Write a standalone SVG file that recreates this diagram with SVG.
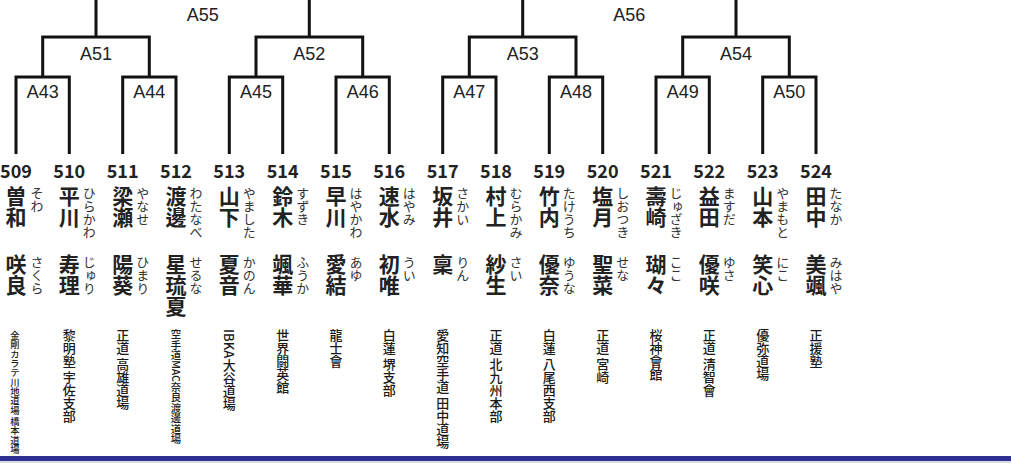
<svg xmlns="http://www.w3.org/2000/svg" width="1011" height="463" viewBox="0 0 1011 463">
<style>
.ln{fill:none;stroke:#111;stroke-width:3}
.lb{font-family:"Liberation Sans",Arial,sans-serif;font-size:18px;fill:#222;text-anchor:middle}
.no{font-family:"Noto Sans CJK JP","Noto Sans",sans-serif;font-weight:bold;font-size:18px;fill:#222;text-anchor:middle}
.nm{writing-mode:vertical-rl;font-family:"Noto Sans CJK JP",sans-serif;font-weight:bold;font-size:21px;fill:#222}
.fu{writing-mode:vertical-rl;font-family:"Noto Sans CJK JP",sans-serif;font-size:13px;fill:#333}
.dj{writing-mode:vertical-rl;font-family:"Noto Sans CJK JP",sans-serif;font-size:13px;font-weight:500;fill:#1a1a1a}
</style>
<rect width="1011" height="463" fill="#fff"/>
<g id="connectors">
<path class="ln" d="M16 154V77H69.3V154M122.7 154V77H176V154M229.3 154V77H282.7V154M336 154V77H389.3V154M442.7 154V77H496V154M549.3 154V77H602.7V154M656 154V77H709.3V154M762.7 154V77H816V154"/>
<path class="ln" d="M42.7 77V37H149.3V77M256 77V37H362.7V77M469.3 77V37H576V77M682.7 77V37H789.3V77"/>
<path class="ln" d="M96 37V-5H309.3V37M522.7 37V-5H736V37"/>
</g>
<g id="matches">
<text class="lb" x="202.7" y="21">A55</text>
<text class="lb" x="629.3" y="21">A56</text>
<text class="lb" x="96" y="60">A51</text>
<text class="lb" x="309.3" y="60">A52</text>
<text class="lb" x="522.7" y="60">A53</text>
<text class="lb" x="736" y="60">A54</text>
<text class="lb" x="42.7" y="98">A43</text>
<text class="lb" x="149.3" y="98">A44</text>
<text class="lb" x="256" y="98">A45</text>
<text class="lb" x="362.7" y="98">A46</text>
<text class="lb" x="469.3" y="98">A47</text>
<text class="lb" x="576" y="98">A48</text>
<text class="lb" x="682.7" y="98">A49</text>
<text class="lb" x="789.3" y="98">A50</text>
</g>
<g id="p509"><text class="no" x="16" y="178">509</text><text class="nm" x="16" y="186">曽和</text><text class="fu" x="37" y="187">そわ</text><text class="nm" x="16" y="254">咲良</text><text class="fu" x="37" y="256">さくら</text><text class="dj" x="15" y="331" style="font-size:9.3px">金剛カラテ川地道場 橋本道場</text></g>
<g id="p510"><text class="no" x="69.3" y="178">510</text><text class="nm" x="69.3" y="186">平川</text><text class="fu" x="89.3" y="187">ひらかわ</text><text class="nm" x="69.3" y="254">寿理</text><text class="fu" x="89.3" y="256">じゅり</text><text class="dj" x="69.3" y="329">黎明塾 宇佐支部</text></g>
<g id="p511"><text class="no" x="122.7" y="178">511</text><text class="nm" x="122.7" y="186">梁瀬</text><text class="fu" x="142.7" y="187">やなせ</text><text class="nm" x="122.7" y="254">陽葵</text><text class="fu" x="142.7" y="256">ひまり</text><text class="dj" x="122.7" y="329">正道 高雄道場</text></g>
<g id="p512"><text class="no" x="176" y="178">512</text><text class="nm" x="176" y="186">渡邊</text><text class="fu" x="196" y="187">わたなべ</text><text class="nm" x="176" y="254">星琉夏</text><text class="fu" x="196" y="256">せるな</text><text class="dj" x="176" y="329" style="font-size:10.4px">空手道MAC奈良渡邊道場</text></g>
<g id="p513"><text class="no" x="229.3" y="178">513</text><text class="nm" x="229.3" y="186">山下</text><text class="fu" x="249.3" y="187">やました</text><text class="nm" x="229.3" y="254">夏音</text><text class="fu" x="249.3" y="256">かのん</text><text class="dj" x="229.3" y="329">IBKA大谷道場</text></g>
<g id="p514"><text class="no" x="282.7" y="178">514</text><text class="nm" x="282.7" y="186">鈴木</text><text class="fu" x="302.7" y="187">すずき</text><text class="nm" x="282.7" y="254">颯華</text><text class="fu" x="302.7" y="256">ふうか</text><text class="dj" x="282.7" y="329">世界闘英館</text></g>
<g id="p515"><text class="no" x="336" y="178">515</text><text class="nm" x="336" y="186">早川</text><text class="fu" x="356" y="187">はやかわ</text><text class="nm" x="336" y="254">愛結</text><text class="fu" x="356" y="256">あゆ</text><text class="dj" x="336" y="329">龍士會</text></g>
<g id="p516"><text class="no" x="389.3" y="178">516</text><text class="nm" x="389.3" y="186">速水</text><text class="fu" x="409.3" y="187">はやみ</text><text class="nm" x="389.3" y="254">初唯</text><text class="fu" x="409.3" y="256">うい</text><text class="dj" x="389.3" y="329">白蓮 堺支部</text></g>
<g id="p517"><text class="no" x="442.7" y="178">517</text><text class="nm" x="442.7" y="186">坂井</text><text class="fu" x="462.7" y="187">さかい</text><text class="nm" x="442.7" y="254">稟</text><text class="fu" x="462.7" y="256">りん</text><text class="dj" x="442.7" y="329">愛知空手道 田中道場</text></g>
<g id="p518"><text class="no" x="496" y="178">518</text><text class="nm" x="496" y="186">村上</text><text class="fu" x="516" y="187">むらかみ</text><text class="nm" x="496" y="254">紗生</text><text class="fu" x="516" y="256">さい</text><text class="dj" x="496" y="329">正道 北九州本部</text></g>
<g id="p519"><text class="no" x="549.3" y="178">519</text><text class="nm" x="549.3" y="186">竹内</text><text class="fu" x="569.3" y="187">たけうち</text><text class="nm" x="549.3" y="254">優奈</text><text class="fu" x="569.3" y="256">ゆうな</text><text class="dj" x="549.3" y="329">白蓮 八尾西支部</text></g>
<g id="p520"><text class="no" x="602.7" y="178">520</text><text class="nm" x="602.7" y="186">塩月</text><text class="fu" x="622.7" y="187">しおつき</text><text class="nm" x="602.7" y="254">聖菜</text><text class="fu" x="622.7" y="256">せな</text><text class="dj" x="602.7" y="329">正道 宮崎</text></g>
<g id="p521"><text class="no" x="656" y="178">521</text><text class="nm" x="656" y="186">壽崎</text><text class="fu" x="676" y="187">じゅざき</text><text class="nm" x="656" y="254">瑚々</text><text class="fu" x="676" y="256">ここ</text><text class="dj" x="656" y="329">桜神會館</text></g>
<g id="p522"><text class="no" x="709.3" y="178">522</text><text class="nm" x="709.3" y="186">益田</text><text class="fu" x="729.3" y="187">ますだ</text><text class="nm" x="709.3" y="254">優咲</text><text class="fu" x="729.3" y="256">ゆさ</text><text class="dj" x="709.3" y="329">正道 清智會</text></g>
<g id="p523"><text class="no" x="762.7" y="178">523</text><text class="nm" x="762.7" y="186">山本</text><text class="fu" x="782.7" y="187">やまもと</text><text class="nm" x="762.7" y="254">笑心</text><text class="fu" x="782.7" y="256">にこ</text><text class="dj" x="762.7" y="329">優弥道場</text></g>
<g id="p524"><text class="no" x="816" y="178">524</text><text class="nm" x="816" y="186">田中</text><text class="fu" x="836" y="187">たなか</text><text class="nm" x="816" y="254">美颯</text><text class="fu" x="836" y="256">みはや</text><text class="dj" x="816" y="329">正援塾</text></g>
<rect x="0" y="456" width="1011" height="5" fill="#2e3192"/>
<rect x="0" y="461" width="1011" height="2" fill="#dcdce6"/>
</svg>
